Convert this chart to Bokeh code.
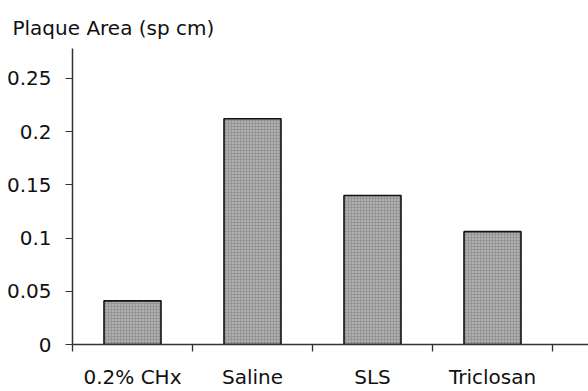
from bokeh.plotting import figure
from bokeh.models import FixedTicker, Range1d, ColumnDataSource
from bokeh.embed import file_html
from bokeh.resources import INLINE

categories = ["0.2% CHx", "Saline", "SLS", "Triclosan"]
plaque_area = [0.041, 0.212, 0.140, 0.106]
y_ticks = [0, 0.05, 0.1, 0.15, 0.2, 0.25]
y_tick_labels = ["0", "0.05", "0.1", "0.15", "0.2", "0.25"]
y_label = "Plaque Area (sp cm)"

FONT = "DejaVu Sans"
TXT = "#111111"

positions = [i + 0.5 for i in range(len(categories))]
src = ColumnDataSource(dict(x=positions, top=plaque_area))

p = figure(width=588, height=391, output_backend="svg", toolbar_location=None,
           x_range=Range1d(0, 4.3), y_range=Range1d(0, 0.278),
           min_border_left=72, min_border_right=0, min_border_top=48,
           min_border_bottom=45)
p.outline_line_color = None
p.grid.visible = False
p.background_fill_color = "white"

p.title.text = y_label
p.title.align = "left"
p.title.vertical_align = "top"
p.title.offset = -60
p.title.standoff = 13
p.title.text_font = FONT
p.title.text_font_size = "20px"
p.title.text_font_style = "normal"
p.title.text_color = TXT

p.vbar(x="x", top="top", width=0.475, source=src,
       fill_color="#959595", line_color="#111111", line_width=1.6,
       hatch_pattern="dot", hatch_color="#dcdcdc", hatch_scale=3, hatch_weight=1)

xa = p.xaxis[0]
xa.ticker = FixedTicker(ticks=positions, minor_ticks=[0, 1, 2, 3, 4])
xa.major_label_overrides = {pos: c for pos, c in zip(positions, categories)}
xa.major_tick_out = 0
xa.major_tick_in = 0
xa.minor_tick_out = 7
xa.minor_tick_in = 0
xa.minor_tick_line_color = "#333333"
xa.minor_tick_line_width = 1.3
xa.axis_line_color = "#333333"
xa.axis_line_width = 1.5
xa.major_label_standoff = 13
xa.major_label_text_font = FONT
xa.major_label_text_font_size = "20px"
xa.major_label_text_color = TXT

ya = p.yaxis[0]
ya.ticker = FixedTicker(ticks=y_ticks, minor_ticks=[])
ya.major_label_overrides = {t: l for t, l in zip(y_ticks, y_tick_labels)}
ya.major_tick_out = 7
ya.major_tick_in = 0
ya.major_tick_line_color = "#333333"
ya.axis_line_color = "#333333"
ya.axis_line_width = 1.5
ya.major_label_standoff = 14
ya.major_label_text_font = FONT
ya.major_label_text_font_size = "20px"
ya.major_label_text_color = TXT

open("out.html", "w").write(file_html(p, INLINE))
